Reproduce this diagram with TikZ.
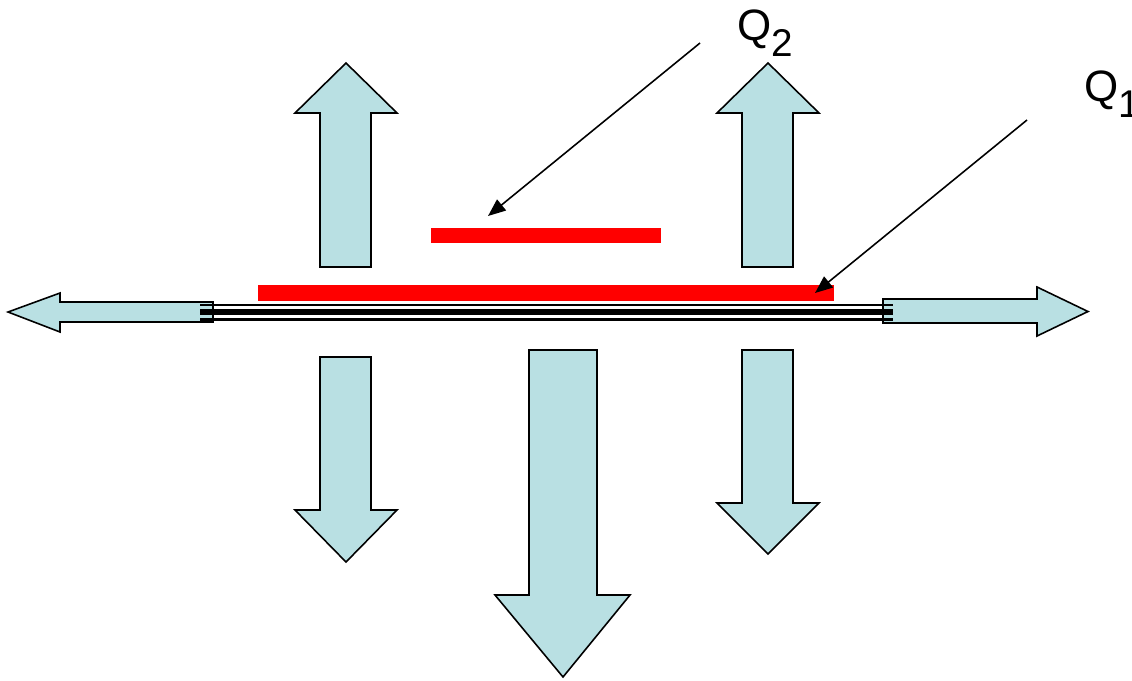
\documentclass[tikz,border=0pt]{standalone}
\usepackage{fontspec}
\setmainfont{Liberation Sans}
\usetikzlibrary{arrows.meta}
\definecolor{flowblue}{RGB}{185,224,227}

\begin{document}
\begin{tikzpicture}[x=0.2mm, y=-0.2mm,
    flow/.style={draw=black, fill=flowblue, line width=0.9pt, line join=miter},
    redbar/.style={fill=red, inner sep=0pt, minimum height=3.1mm},
    rod/.style={draw=black, line width=#1},
    pointer/.style={-{Triangle[length=10pt,width=8pt]}, line width=0.9pt},
    qlabel/.style={inner sep=0pt, anchor=base west, font=\fontsize{25}{30}\selectfont}]
    \useasboundingbox (0,0) rectangle (1132,680);
    \clip (0,0) rectangle (1132,680);

    % side arrows along the rod
    \draw[flow] (213,302) -- (60,302) -- (60,293) -- (8,312) -- (60,332) -- (60,322) -- (213,322) -- cycle;
    \draw[flow] (883,299) -- (1037,299) -- (1037,287) -- (1088,311.5) -- (1037,336) -- (1037,323) -- (883,323) -- cycle;

    % the rod
    \draw[rod=1.5pt] (200,305) -- (893,305);
    \draw[rod=3.2pt] (200,312) -- (893,312);
    \draw[rod=1.5pt] (200,319.5) -- (893,319.5);

    % heated layers
    \node[redbar, minimum width=46mm] (bar2) at (546,235.5) {};
    \node[redbar, minimum width=115.2mm] (bar1) at (546,293) {};

    % up arrows
    \draw[flow] (320,267) -- (320,113) -- (295,113) -- (346,63) -- (397,113) -- (371,113) -- (371,267) -- cycle;
    \draw[flow] (742,267) -- (742,113) -- (717,113) -- (768,63) -- (819,113) -- (793,113) -- (793,267) -- cycle;

    % down arrows
    \draw[flow] (320,357) -- (320,510) -- (295,510) -- (346,562) -- (397,510) -- (371,510) -- (371,357) -- cycle;
    \draw[flow] (742,350) -- (742,503) -- (717,503) -- (768,554) -- (819,503) -- (793,503) -- (793,350) -- cycle;
    \draw[flow] (529,350) -- (529,595) -- (495,595) -- (563,677) -- (630,595) -- (597,595) -- (597,350) -- cycle;

    % labels
    \node[qlabel] (q2) at (737,40) {Q{\fontsize{22}{26}\selectfont\raisebox{-9.5pt}{2}}};
    \node[qlabel] (q1) at (1084,101) {Q{\fontsize{22}{26}\selectfont\raisebox{-9.5pt}{1}}};

    \coordinate (q2from) at (700,43);
    \coordinate (q2to) at (488,216);
    \coordinate (q1from) at (1027,120);
    \coordinate (q1to) at (815,293);
    \draw[pointer] (q2from) -- (q2to);
    \draw[pointer] (q1from) -- (q1to);
\end{tikzpicture}
\end{document}
